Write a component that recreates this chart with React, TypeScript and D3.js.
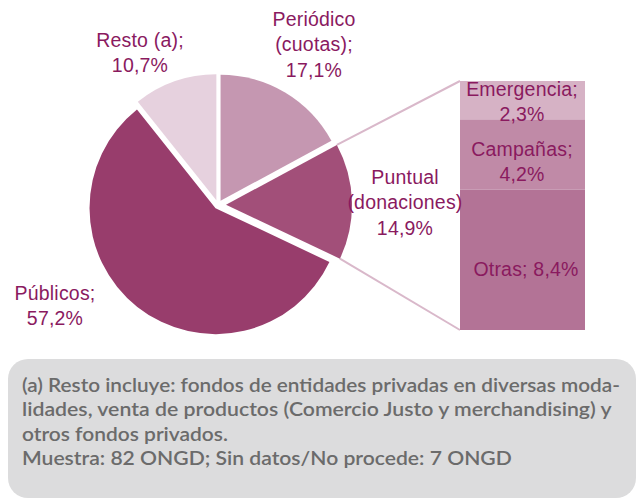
import React, { useEffect, useRef, useState } from "react";
import * as d3 from "d3";

const pieLabels = ["Periódico (cuotas)", "Puntual (donaciones)", "Públicos", "Resto (a)"];
const pieValues = [17.1, 14.9, 57.2, 10.7];
const pieColors = ["#c597b1", "#a24f79", "#983d6c", "#e6d1de"];

const barLabels = ["Emergencia", "Campañas", "Otras"];
const barValues = [2.3, 4.2, 8.4];
const barColors = ["#d6b2c5", "#c08aa7", "#b37396"];

const footnoteLines = [
  "(a) Resto incluye: fondos de entidades privadas en diversas moda-",
  "lidades, venta de productos (Comercio Justo y merchandising) y",
  "otros fondos privados.",
  "Muestra: 82 ONGD; Sin datos/No procede: 7 ONGD",
];

const TEXT = "#8a1a5f";
const FONT = "Liberation Sans, Arial, sans-serif";

export default function App() {
  const cx = 218, cy = 205, r = 126;
  const explode = [5, 8, 4, 5];
  const pie = d3.pie<number>().sort(null).startAngle(0).endAngle(2 * Math.PI);
  const arcs = pie(pieValues);
  const arcGen = d3.arc<d3.PieArcDatum<number>>().innerRadius(0).outerRadius(r);

  const offsets = arcs.map((a, i) => {
    const m = (a.startAngle + a.endAngle) / 2;
    return [Math.sin(m) * explode[i], -Math.cos(m) * explode[i]];
  });

  const barX = 460, barW = 125, barTop = 81, barBottom = 330;
  const total = d3.sum(barValues);
  const y = d3.scaleLinear().domain([0, total]).range([barTop, barBottom]);
  const cum = d3.cumsum(barValues);
  const starts = barValues.map((v, i) => cum[i] - v);

  const pu = arcs[1];
  const po = offsets[1];
  const p1 = [cx + po[0] + Math.sin(pu.startAngle) * r, cy + po[1] - Math.cos(pu.startAngle) * r];
  const p2 = [cx + po[0] + Math.sin(pu.endAngle) * r, cy + po[1] - Math.cos(pu.endAngle) * r];

  const fs = 19.5;
  const ls = 0.2;
  const lbl = (x: number, yy: number, lines: string[], key: string) => (
    <text key={key} x={x} y={yy} textAnchor="middle" fontFamily={FONT} fontSize={fs} fill={TEXT} letterSpacing={ls}>
      {lines.map((t, i) => (
        <tspan key={i} x={x} dy={i === 0 ? 0 : 25.3}>{t}</tspan>
      ))}
    </text>
  );

  const footLens = [598, 590, 206, 490];
  const refs = useRef<(SVGTextElement | null)[]>([]);
  const [scales, setScales] = useState<number[]>([0.9, 0.9, 0.9, 0.9]);
  useEffect(() => {
    const s = refs.current.map((el, i) => {
      if (!el) return 0.9;
      const w = el.getComputedTextLength();
      return w > 0 ? footLens[i] / w : 0.9;
    });
    setScales(s);
  }, []);

  return (
    <svg width={637} height={499} style={{ position: "absolute", left: 0, top: 0 }}>
      <rect x={0} y={0} width={637} height={499} fill="#ffffff" />
      <line x1={p1[0]} y1={p1[1]} x2={barX} y2={y(0)} stroke="#d9b8ca" strokeWidth={2} />
      <line x1={p2[0]} y1={p2[1]} x2={barX} y2={y(total)} stroke="#d9b8ca" strokeWidth={2} />
      {arcs.map((a, i) => (
        <path key={i} d={arcGen(a) || ""} fill={pieColors[i]}
          transform={`translate(${cx + offsets[i][0]},${cy + offsets[i][1]})`} />
      ))}
      {barValues.map((v, i) => (
        <rect key={i} x={barX} y={y(starts[i])} width={barW} height={y(starts[i] + v) - y(starts[i])} fill={barColors[i]} />
      ))}
      {lbl(140, 47, ["Resto (a);", "10,7%"], "resto")}
      {lbl(314, 26, ["Periódico", "(cuotas);", "17,1%"], "per")}
      {lbl(405, 184, ["Puntual", "(donaciones)", "14,9%"], "pun")}
      {lbl(55, 300, ["Públicos;", "57,2%"], "pub")}
      {lbl(522, 96, ["Emergencia;", "2,3%"], "eme")}
      {lbl(522, 155.5, ["Campañas;", "4,2%"], "cam")}
      {lbl(526, 276, ["Otras; 8,4%"], "otr")}
      <rect x={8} y={359} width={628} height={139} rx={20} ry={20} fill="#dcdcdd" />
      {footnoteLines.map((t, i) => (
        <text key={i} ref={(el) => { refs.current[i] = el; }} x={0} y={0}
          transform={`translate(22,${392 + i * 24.4}) scale(${scales[i]},1)`}
          fontFamily="Lato, Open Sans, sans-serif" fontWeight={600}
          fontSize={20} fill="#6b6b6b">{t}</text>
      ))}
    </svg>
  );
}
